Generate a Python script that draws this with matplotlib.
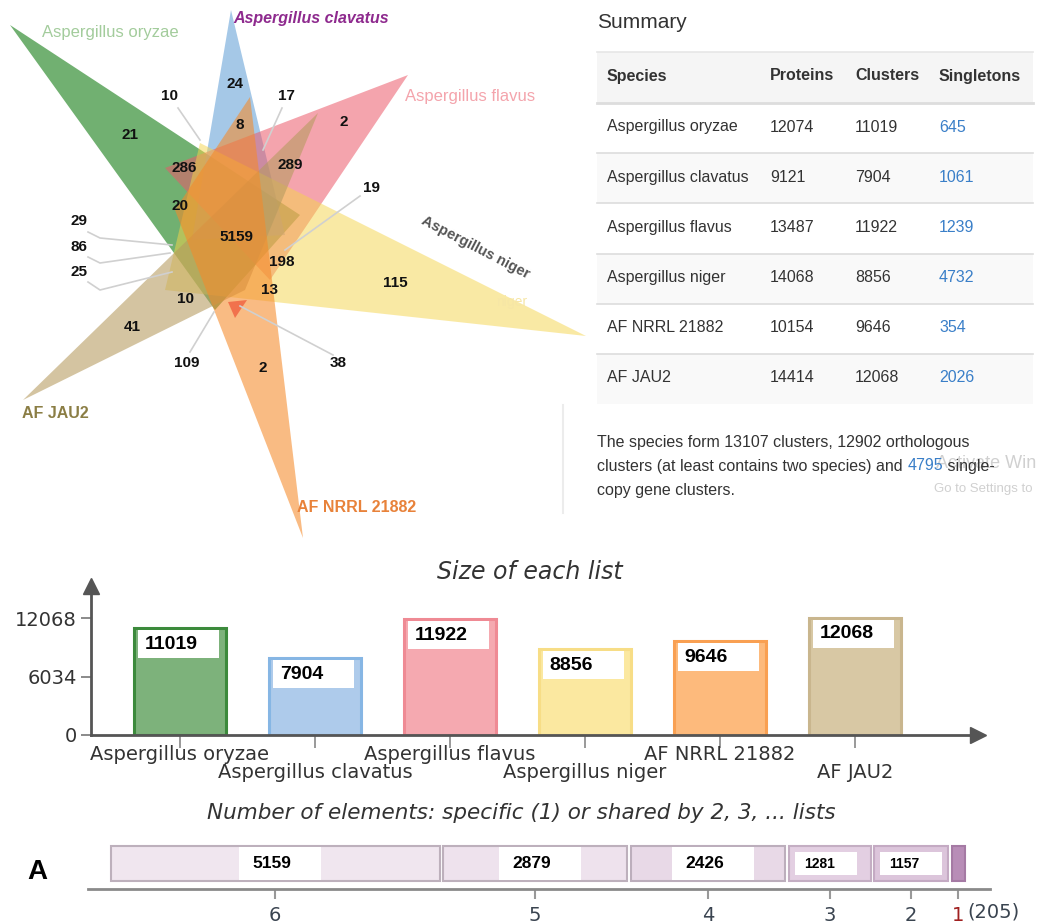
import matplotlib
matplotlib.use('Agg')
import matplotlib.pyplot as plt
from matplotlib.patches import Polygon, Rectangle
from matplotlib import font_manager

# ---------------- data ----------------
species = ['Aspergillus oryzae', 'Aspergillus clavatus', 'Aspergillus flavus',
           'Aspergillus niger', 'AF NRRL 21882', 'AF JAU2']
proteins = [12074, 9121, 13487, 14068, 10154, 14414]
clusters = [11019, 7904, 11922, 8856, 9646, 12068]
singletons = [645, 1061, 1239, 4732, 354, 2026]

venn_counts = [10, 24, 17, 21, 8, 2, 286, 289, 19, 20, 29, 86, 25,
               5159, 198, 13, 115, 10, 41, 109, 2, 38]

shared_by = [6, 5, 4, 3, 2, 1]
shared_counts = [5159, 2879, 2426, 1281, 1157, 205]

yticks_vals = [0, 6034, 12068]

total_clusters = 13107
ortho_clusters = 12902
single_copy = 4795

# ---------------- fonts ----------------
names = {f.name for f in font_manager.fontManager.ttflist}
NARROW = 'Liberation Sans Narrow' if 'Liberation Sans Narrow' in names else 'Liberation Sans'
ARIAL = 'Liberation Sans'
DJ = 'DejaVu Sans'

W, H = 1043, 924
fig = plt.figure(figsize=(W / 100, H / 100), dpi=100)
bg = fig.add_axes([0, 0, 1, 1])
bg.set_xlim(0, W)
bg.set_ylim(H, 0)
bg.axis('off')

# ---------------- Venn (layout geometry) ----------------
venn_shapes = [
    ([(10, 25), (300, 215), (215, 310)], '#2e8b2e', 0.68),   # oryzae
    ([(231, 10), (192, 240), (285, 235)], '#5b9bd5', 0.55),  # clavatus
    ([(408, 75), (165, 168), (270, 280)], '#eb5a6a', 0.55),  # flavus
    ([(586, 336), (200, 143), (165, 290)], '#f5d44a', 0.50), # niger
    ([(23, 400), (318, 113), (245, 290)], '#b59a5e', 0.58),  # JAU2
    ([(303, 538), (175, 210), (250, 97)], '#f58a2a', 0.58),  # NRRL
]
for pts, col, a in venn_shapes:
    bg.add_patch(Polygon(pts, closed=True, facecolor=col, edgecolor='none', alpha=a))
bg.add_patch(Polygon([(228, 302), (247, 300), (235, 318)], closed=True,
                     facecolor='#f06040', edgecolor='none', alpha=0.8))

leaders = [
    [(178, 108), (200, 140)],
    [(282, 108), (263, 150)],
    [(360, 196), (285, 250)],
    [(88, 232), (100, 238), (172, 245)],
    [(88, 257), (100, 263), (170, 253)],
    [(88, 282), (100, 290), (172, 272)],
    [(190, 352), (214, 312)],
    [(333, 355), (240, 306)],
]
for seg in leaders:
    xs, ys = zip(*seg)
    bg.plot(xs, ys, color='#d0d0d0', lw=1.2, zorder=3)

venn_pos = [(170, 96), (235, 84), (286, 96), (130, 135), (240, 125), (344, 122),
            (184, 168), (290, 165), (371, 188), (180, 206), (79, 221), (79, 247),
            (79, 272), (236, 237), (282, 262), (270, 290), (395, 283), (186, 299),
            (132, 327), (187, 363), (263, 368), (338, 363)]
for v, (x, y) in zip(venn_counts, venn_pos):
    bg.text(x, y, str(v), ha='center', va='center', fontsize=11,
            fontweight='bold', family=ARIAL, color='#111111', zorder=5)

set_labels = [
    (species[0], 110, 33, '#a3cc9c', 'normal', 'normal', 12, 0, ARIAL),
    (species[1], 311, 18, '#8e2a8e', 'bold', 'italic', 11.5, 0, NARROW),
    (species[2], 470, 97, '#f4a4ac', 'normal', 'normal', 12, 0, ARIAL),
    (species[3], 475, 247, '#555555', 'bold', 'normal', 10.5, -27.5, NARROW),
    ('niger', 512, 302, '#f6e6a6', 'normal', 'normal', 10, 0, ARIAL),
    (species[5], 55, 413, '#8b7e45', 'bold', 'normal', 11.5, 0, NARROW),
    (species[4], 357, 507, '#e8823a', 'bold', 'normal', 11.5, 0, NARROW),
]
for t, x, y, c, fw, fs, sz, rot, fam in set_labels:
    bg.text(x, y, t, ha='center', va='center', color=c, fontweight=fw,
            fontstyle=fs, fontsize=sz, rotation=rot, family=fam, zorder=5)

bg.plot([563, 563], [405, 513], color='#ececec', lw=1.5)

# ---------------- Summary table ----------------
tx0, tx1 = 597, 1033
bg.text(597, 22, 'Summary', fontsize=15, family=ARIAL, color='#333333',
        ha='left', va='center')
bg.add_patch(Rectangle((tx0, 52), tx1 - tx0, 51, facecolor='#f5f5f5', edgecolor='none'))
row_h = 50.2
for i in range(len(species)):
    top = 103 + row_h * i
    fc = '#f9f9f9' if i % 2 == 1 else '#ffffff'
    bg.add_patch(Rectangle((tx0, top), tx1 - tx0, row_h, facecolor=fc, edgecolor='none'))
    bg.plot([tx0, tx1], [top, top], color='#dddddd', lw=2 if i == 0 else 1.2)
bg.plot([tx0, tx1], [52, 52], color='#e6e6e6', lw=1.2)
col_x = [607, 770, 855, 939]
for cx, h in zip(col_x, ['Species', 'Proteins', 'Clusters', 'Singletons']):
    bg.text(cx, 76, h, fontsize=11.5, fontweight='bold', family=ARIAL,
            color='#333333', ha='left', va='center')
for i in range(len(species)):
    y = 127 + row_h * i
    vals = [species[i], str(proteins[i]), str(clusters[i]), str(singletons[i])]
    for j, (cx, v) in enumerate(zip(col_x, vals)):
        bg.text(cx, y, v, fontsize=11.5, family=ARIAL,
                color='#3a7fc8' if j == 3 else '#333333', ha='left', va='center')

# paragraph with inline blue number
renderer = fig.canvas.get_renderer()
def inline(parts, x, y):
    for txt, col in parts:
        t = bg.text(x, y, txt, fontsize=11.5, family=ARIAL, color=col,
                    ha='left', va='center', zorder=2)
        bb = t.get_window_extent(renderer=renderer)
        x += bb.width
inline([(f'The species form {total_clusters} clusters, {ortho_clusters} orthologous', '#333333')], 597, 442)
inline([('clusters (at least contains two species) and ', '#333333'),
        (str(single_copy), '#3a7fc8'), (' single-', '#333333')], 597, 466)
inline([('copy gene clusters.', '#333333')], 597, 490)
bg.text(936, 463, 'Activate Win', fontsize=13, family=ARIAL, color='#d0d0d0',
        ha='left', va='center', zorder=1)
bg.text(934, 489, 'Go to Settings to', fontsize=9.5, family=ARIAL,
        color='#d0d0d0', ha='left', va='center', zorder=1)

# ---------------- Size of each list (bar chart) ----------------
bg.text(530, 572, 'Size of each list', fontsize=17, fontstyle='italic', family=DJ,
        color='#333333', ha='center', va='center')
ax_top = 586
ax1 = fig.add_axes([91 / W, (H - 735) / H, 887 / W, (735 - ax_top) / H])
px_per_unit = 117 / 12068
ax1.set_xlim(-0.659, -0.659 + 887 / 135)
ax1.set_ylim(0, (735 - ax_top) / px_per_unit)
ax1.set_facecolor('none')
bar_fill = ['#7db27b', '#aecbeb', '#f5a9b0', '#fbe8a0', '#fdba7c', '#d8c8a4']
bar_edge = ['#3c8a3c', '#86b6e4', '#ef8a94', '#f7dd86', '#f9a052', '#c9b68e']
xs = list(range(len(species)))
bw = 0.68
ax1.bar(xs, clusters, width=bw, color=bar_fill, edgecolor=bar_edge, linewidth=2.2, zorder=2)
for x, v in zip(xs, clusters):
    left = x - bw / 2
    ax1.add_patch(Rectangle((left + 0.03, v - 3050), 0.6, 2850, facecolor='white',
                            edgecolor='none', zorder=3))
    ax1.text(left + 0.08, v - 1650, str(v), fontsize=16 if NARROW != ARIAL else 14,
             fontweight='bold', family=NARROW, color='black', ha='left', va='center', zorder=4)
for s in ['top', 'right']:
    ax1.spines[s].set_visible(False)
for s in ['left', 'bottom']:
    ax1.spines[s].set_color('#555555')
    ax1.spines[s].set_linewidth(2)
ax1.set_yticks(yticks_vals)
ax1.set_yticklabels([str(v) for v in yticks_vals])
ax1.set_xticks(xs)
ax1.set_xticklabels([])
ax1.tick_params(axis='y', length=7, width=1.2, color='#777777', labelsize=14,
                labelcolor='#333333', pad=3)
ax1.tick_params(axis='x', length=9, width=1.2, color='#888888')
for lab in ax1.get_yticklabels():
    lab.set_family(DJ)
ax1.plot(1, 0, marker='>', color='#555555', ms=11, transform=ax1.transAxes,
         clip_on=False, zorder=5)
ax1.plot(0, 1, marker='^', color='#555555', ms=11, transform=ax1.transAxes,
         clip_on=False, zorder=5)
for x, name in zip(xs, species):
    off = -20 if x % 2 == 0 else -38
    ax1.annotate(name, xy=(x, 0), xytext=(0, off), textcoords='offset pixels',
                 ha='center', va='center', fontsize=14, family=DJ, color='#333333',
                 annotation_clip=False)

# ---------------- Number of elements (stacked bar) ----------------
bg.text(521, 813, 'Number of elements: specific (1) or shared by 2, 3, ... lists',
        fontsize=15.5, fontstyle='italic', family=DJ, color='#333333',
        ha='center', va='center')
bg.text(37, 872, 'A', fontsize=20, fontweight='bold', family=NARROW, color='black',
        ha='center', va='center')
upx = 15.7
ax2 = fig.add_axes([88 / W, (H - 889) / H, 902 / W, 49 / H])
ax2.set_xlim((88 - 111) * upx, (990 - 111) * upx)
ax2.set_ylim(0, 49)
ax2.set_facecolor('none')
gap = 60
lefts = []
acc = 0
for v in shared_counts:
    lefts.append(acc)
    acc += v + gap
seg_fill = ['#f0e6ef', '#eee2ed', '#e8d9e7', '#e3cfe2', '#dcc5db', '#b88db7']
seg_edge = ['#bdb0bc', '#bdb0bc', '#bcaebc', '#c4aec3', '#c4aac3', '#a57aa4']
ax2.barh([25.5] * len(shared_counts), shared_counts, left=lefts, height=35,
         color=seg_fill, edgecolor=seg_edge, linewidth=1.5, zorder=2)
centers = [l + v / 2 for l, v in zip(lefts, shared_counts)]
for l, v, c in zip(lefts, shared_counts, centers):
    if v < 500:
        continue
    if v > 2000:
        bx = c + 5 * upx - 41 * upx
        bwid = 82 * upx
        fs = 14 if NARROW != ARIAL else 12.5
        by, bh = 9, 33
    else:
        bx = l + 6 * upx
        bwid = min(62 * upx, v - 12 * upx)
        fs = 11.5 if NARROW != ARIAL else 10
        by, bh = 14, 23
    ax2.add_patch(Rectangle((bx, by), bwid, bh, facecolor='white', edgecolor='none', zorder=3))
    ax2.text(bx + (13 if v > 2000 else 9) * upx, 25.5, str(v), fontsize=fs,
             fontweight='bold', family=NARROW, color='black', ha='left', va='center', zorder=4)
for s in ['top', 'right', 'left']:
    ax2.spines[s].set_visible(False)
ax2.spines['bottom'].set_color('#8a8a8a')
ax2.spines['bottom'].set_linewidth(2)
ax2.set_yticks([])
ax2.set_xticks(centers)
ax2.set_xticklabels([str(s) for s in shared_by])
ax2.tick_params(axis='x', length=7, width=1.5, color='#999999', labelsize=14,
                labelcolor='#3a4450', pad=5)
for lab in ax2.get_xticklabels():
    lab.set_family(DJ)
ax2.get_xticklabels()[-1].set_color('#a02020')
ax2.annotate(f'({shared_counts[-1]})', xy=(centers[-1], 0), xycoords=('data', 'axes fraction'),
             xytext=(9, -23), textcoords='offset pixels', ha='left', va='center',
             fontsize=14, family=DJ, color='#3a4450', annotation_clip=False)

fig.savefig('out.png', dpi=100)
